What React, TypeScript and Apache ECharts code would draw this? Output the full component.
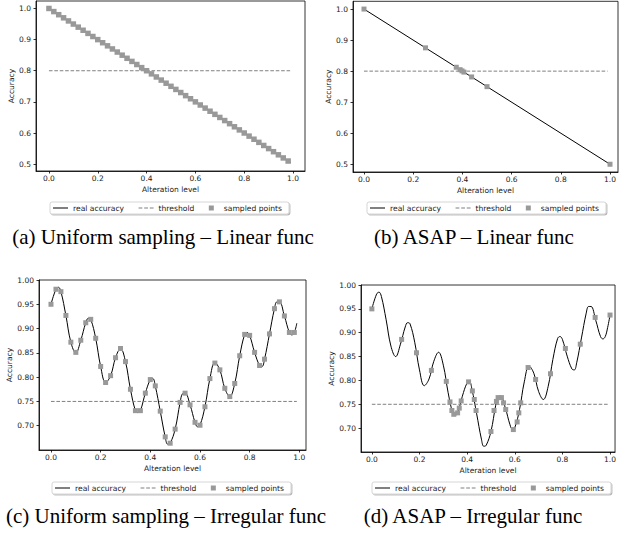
import React, { useEffect, useRef } from "react";
import * as echarts from "echarts";

// ---------- data ----------
const X_TICKS = [0, 0.2, 0.4, 0.6, 0.8, 1.0];
const Y_TICKS_LINEAR = [0.5, 0.6, 0.7, 0.8, 0.9, 1.0];
const Y_TICKS_IRREGULAR = [0.7, 0.75, 0.8, 0.85, 0.9, 0.95, 1.0];

const THRESHOLD_X = [0, 0.99];
const THRESHOLD_LINEAR = 0.8;
const THRESHOLD_IRREGULAR = 0.75;

// (a) uniform sampling of the linear function
const UNIFORM_X = [
  0.0, 0.02, 0.04, 0.06, 0.08, 0.1, 0.12, 0.14, 0.16, 0.18,
  0.2, 0.22, 0.24, 0.26, 0.28, 0.3, 0.32, 0.34, 0.36, 0.38,
  0.4, 0.42, 0.44, 0.46, 0.48, 0.5, 0.52, 0.54, 0.56, 0.58,
  0.6, 0.62, 0.64, 0.66, 0.68, 0.7, 0.72, 0.74, 0.76, 0.78,
  0.8, 0.82, 0.84, 0.86, 0.88, 0.9, 0.92, 0.94, 0.96, 0.98,
];
const LINEAR_UNIFORM_Y = [
  1.0, 0.99, 0.98, 0.97, 0.96, 0.95, 0.94, 0.93, 0.92, 0.91,
  0.9, 0.89, 0.88, 0.87, 0.86, 0.85, 0.84, 0.83, 0.82, 0.81,
  0.8, 0.79, 0.78, 0.77, 0.76, 0.75, 0.74, 0.73, 0.72, 0.71,
  0.7, 0.69, 0.68, 0.67, 0.66, 0.65, 0.64, 0.63, 0.62, 0.61,
  0.6, 0.59, 0.58, 0.57, 0.56, 0.55, 0.54, 0.53, 0.52, 0.51,
];
const LINEAR_CURVE_A_X = [0, 0.99];
const LINEAR_CURVE_A_Y = [1.0, 0.505];

// (b) ASAP sampling of the linear function
const LINEAR_CURVE_B_X = [0, 1.0];
const LINEAR_CURVE_B_Y = [1.0, 0.5];
const ASAP_LINEAR_X = [0, 0.25, 0.375, 0.390625, 0.3984375, 0.40625, 0.4375, 0.5, 1.0];
const ASAP_LINEAR_Y = [1.0, 0.875, 0.8125, 0.8047, 0.8008, 0.7969, 0.7813, 0.75, 0.5];

// (c) uniform sampling of the irregular function
const IRREG_UNIFORM_Y = [
  0.95, 0.981, 0.976, 0.927, 0.872, 0.851, 0.876, 0.912, 0.919, 0.88,
  0.822, 0.789, 0.803, 0.84, 0.859, 0.832, 0.775, 0.731, 0.731, 0.767,
  0.795, 0.782, 0.73, 0.677, 0.664, 0.693, 0.748, 0.767, 0.743, 0.707,
  0.701, 0.739, 0.797, 0.829, 0.815, 0.777, 0.76, 0.787, 0.844, 0.888,
  0.886, 0.851, 0.824, 0.837, 0.889, 0.941, 0.955, 0.926, 0.892, 0.892,
];

// real (irregular) accuracy curve
const IRREG_CURVE_X = [
  0.0, 0.02, 0.03, 0.04, 0.06, 0.08, 0.1, 0.12, 0.14, 0.15, 0.16, 0.18,
  0.2, 0.22, 0.24, 0.26, 0.28, 0.3, 0.32, 0.34, 0.35, 0.36, 0.38,
  0.4, 0.41, 0.42, 0.44, 0.46, 0.47, 0.48, 0.5, 0.52, 0.53, 0.54, 0.56, 0.58, 0.59,
  0.6, 0.62, 0.64, 0.66, 0.68, 0.7, 0.72, 0.74, 0.76, 0.78, 0.79,
  0.8, 0.82, 0.84, 0.85, 0.86, 0.88, 0.9, 0.91, 0.92, 0.94, 0.96, 0.97, 0.98, 0.99, 1.0,
];
const IRREG_CURVE_Y = [
  0.95, 0.981, 0.985, 0.976, 0.927, 0.872, 0.85, 0.876, 0.912, 0.921, 0.919, 0.88,
  0.822, 0.789, 0.803, 0.84, 0.859, 0.832, 0.775, 0.731, 0.727, 0.731, 0.767,
  0.795, 0.797, 0.782, 0.73, 0.677, 0.662, 0.664, 0.693, 0.748, 0.766, 0.767, 0.743, 0.707, 0.698,
  0.701, 0.739, 0.797, 0.83, 0.815, 0.777, 0.76, 0.787, 0.844, 0.888, 0.892,
  0.886, 0.851, 0.824, 0.822, 0.837, 0.889, 0.941, 0.955, 0.955, 0.926, 0.892, 0.887, 0.892, 0.911, 0.937,
];

// (d) ASAP sampling of the irregular function
const ASAP_IRREG_X = [
  0.0, 0.125, 0.1875, 0.25, 0.3125, 0.328, 0.336, 0.344, 0.36, 0.367, 0.375,
  0.406, 0.422, 0.43, 0.4375, 0.5, 0.513, 0.523, 0.53, 0.544, 0.553, 0.562,
  0.594, 0.61, 0.617, 0.625, 0.656, 0.6875, 0.75, 0.8125, 0.875, 0.9375, 1.0,
];
const ASAP_IRREG_Y = [
  0.95, 0.886, 0.858, 0.821, 0.798, 0.755, 0.737, 0.729, 0.732, 0.742, 0.757,
  0.797, 0.778, 0.76, 0.737, 0.693, 0.737, 0.756, 0.764, 0.764, 0.753, 0.739,
  0.697, 0.713, 0.732, 0.753, 0.827, 0.802, 0.814, 0.867, 0.876, 0.932, 0.937,
];

const CAPTIONS = [
  "(a) Uniform sampling – Linear func",
  "(b) ASAP – Linear func",
  "(c) Uniform sampling – Irregular func",
  "(d) ASAP – Irregular func",
];

// ---------- helpers ----------
const zip = (xs: number[], ys: number[]) => xs.map((x, i) => [x, ys[i]]);

const FONT = "DejaVu Sans";
const FS = 7.5;
const INK = "#1a1a1a";

type Panel = {
  grid: { left: number; top: number; width: number; height: number };
  xr: [number, number];
  yr: [number, number];
  yTicks: number[];
  yDec: number;
  yNameGap: number;
  curve: number[][];
  threshold: number;
  samples: number[][];
  symbolSize: number;
  legend: { left: number; top: number };
  caption: { x: number; y: number };
};

const panels: Panel[] = [
  {
    grid: { left: 36, top: 1, width: 269, height: 170 },
    xr: [-0.053, 1.049],
    yr: [0.478, 1.024],
    yTicks: Y_TICKS_LINEAR,
    yDec: 1,
    yNameGap: 20,
    curve: zip(LINEAR_CURVE_A_X, LINEAR_CURVE_A_Y),
    threshold: THRESHOLD_LINEAR,
    samples: zip(UNIFORM_X, LINEAR_UNIFORM_Y),
    symbolSize: 5.5,
    legend: { left: 50, top: 202 },
    caption: { x: 163, y: 237 },
  },
  {
    grid: { left: 353, top: 1.3, width: 265, height: 170.7 },
    xr: [-0.0447, 1.0325],
    yr: [0.475, 1.025],
    yTicks: Y_TICKS_LINEAR,
    yDec: 1,
    yNameGap: 20,
    curve: zip(LINEAR_CURVE_B_X, LINEAR_CURVE_B_Y),
    threshold: THRESHOLD_LINEAR,
    samples: zip(ASAP_LINEAR_X, ASAP_LINEAR_Y),
    symbolSize: 5,
    legend: { left: 367, top: 202 },
    caption: { x: 474, y: 237 },
  },
  {
    grid: { left: 39, top: 280, width: 267, height: 170 },
    xr: [-0.0483, 1.027],
    yr: [0.65, 1.0],
    yTicks: Y_TICKS_IRREGULAR,
    yDec: 2,
    yNameGap: 24,
    curve: zip(IRREG_CURVE_X, IRREG_CURVE_Y).filter((p) => p[0] <= 0.99),
    threshold: THRESHOLD_IRREGULAR,
    samples: zip(UNIFORM_X, IRREG_UNIFORM_Y),
    symbolSize: 5,
    legend: { left: 52, top: 482 },
    caption: { x: 166, y: 516 },
  },
  {
    grid: { left: 361, top: 285, width: 257, height: 167 },
    xr: [-0.0456, 1.021],
    yr: [0.65, 1.0],
    yTicks: Y_TICKS_IRREGULAR,
    yDec: 2,
    yNameGap: 25,
    curve: zip(IRREG_CURVE_X, IRREG_CURVE_Y),
    threshold: THRESHOLD_IRREGULAR,
    samples: zip(ASAP_IRREG_X, ASAP_IRREG_Y),
    symbolSize: 5,
    legend: { left: 372, top: 482 },
    caption: { x: 473, y: 516 },
  },
];

function buildOption() {
  const grid: any[] = [];
  const xAxis: any[] = [];
  const yAxis: any[] = [];
  const series: any[] = [];
  const legend: any[] = [];
  const graphic: any[] = [];

  panels.forEach((p, i) => {
    grid.push({
      ...p.grid,
      show: true,
      borderColor: "#000",
      borderWidth: 0.8,
      backgroundColor: "#fff",
    });
    xAxis.push({
      type: "value",
      gridIndex: i,
      min: p.xr[0],
      max: p.xr[1],
      name: "Alteration level",
      nameLocation: "middle",
      nameGap: 14,
      nameTextStyle: { fontFamily: FONT, fontSize: FS, color: INK },
      axisLine: { show: true, onZero: false, lineStyle: { color: "#000", width: 0.8 } },
      axisTick: {
        show: true,
        length: 2.5,
        customValues: X_TICKS,
        lineStyle: { color: "#000", width: 0.8 },
      },
      axisLabel: {
        customValues: X_TICKS,
        formatter: (v: number) => v.toFixed(1),
        fontFamily: FONT,
        fontSize: FS,
        color: INK,
        margin: 3,
      },
      splitLine: { show: false },
    });
    yAxis.push({
      type: "value",
      gridIndex: i,
      min: p.yr[0],
      max: p.yr[1],
      name: "Accuracy",
      nameLocation: "middle",
      nameGap: p.yNameGap,
      nameTextStyle: { fontFamily: FONT, fontSize: FS, color: INK },
      axisLine: { show: true, onZero: false, lineStyle: { color: "#000", width: 0.8 } },
      axisTick: {
        show: true,
        length: 2.5,
        customValues: p.yTicks,
        lineStyle: { color: "#000", width: 0.8 },
      },
      axisLabel: {
        customValues: p.yTicks,
        formatter: (v: number) => v.toFixed(p.yDec),
        fontFamily: FONT,
        fontSize: FS,
        color: INK,
        margin: 5,
      },
      splitLine: { show: false },
    });
    series.push({
      name: "real accuracy",
      type: "line",
      xAxisIndex: i,
      yAxisIndex: i,
      data: p.curve,
      symbol: "none",
      smooth: i >= 2 ? 0.4 : false,
      color: "#000",
      lineStyle: { color: "#000", width: 1 },
      z: 2,
    });
    series.push({
      name: "threshold",
      type: "line",
      xAxisIndex: i,
      yAxisIndex: i,
      data: THRESHOLD_X.map((x) => [x, p.threshold]),
      symbol: "none",
      color: "#808080",
      lineStyle: { color: "#808080", width: 1, type: [3.6, 1.8] },
      z: 3,
    });
    series.push({
      name: "sampled points",
      type: "scatter",
      xAxisIndex: i,
      yAxisIndex: i,
      data: p.samples,
      symbol: "rect",
      symbolSize: p.symbolSize,
      color: "#999999",
      itemStyle: { color: "#999999", opacity: 1 },
      z: 4,
    });
    legend.push({
      left: p.legend.left,
      top: p.legend.top,
      orient: "horizontal",
      selectedMode: false,
      data: [
        { name: "real accuracy", icon: "path://M0,0H15V1H0Z" },
        { name: "threshold", icon: "path://M0,0H3.8V1H0ZM5.6,0H9.4V1H5.6ZM11.2,0H15V1H11.2Z" },
        { name: "sampled points", icon: "path://M0,0H1V1H0Z" },
      ],
      itemWidth: 15,
      itemHeight: 5,
      itemGap: 14.5,
      itemStyle: { borderWidth: 0 },
      textStyle: { fontFamily: FONT, fontSize: 7.6, color: INK },
      backgroundColor: "#fff",
      borderColor: "#cccccc",
      borderWidth: 0.8,
      borderRadius: 2,
      padding: [2, 7, 2, 3],
      shadowColor: "rgba(0,0,0,0.3)",
      shadowOffsetX: 1,
      shadowOffsetY: 1,
      shadowBlur: 0,
    });
    graphic.push({
      type: "text",
      x: p.caption.x,
      y: p.caption.y,
      style: {
        text: CAPTIONS[i],
        fontFamily: "Liberation Serif",
        fontSize: 21,
        fill: "#000",
        align: "center",
        verticalAlign: "middle",
      },
    });
  });

  return {
    animation: false,
    backgroundColor: "#fff",
    grid,
    xAxis,
    yAxis,
    series,
    legend,
    graphic,
  };
}

export default function App() {
  const ref = useRef<HTMLDivElement>(null);
  useEffect(() => {
    if (!ref.current) return;
    const chart = echarts.init(ref.current, undefined, { renderer: "svg" });
    chart.setOption(buildOption() as any);
    return () => chart.dispose();
  }, []);
  return (
    <div
      ref={ref}
      style={{ position: "absolute", left: 0, top: 0, width: 619, height: 537, background: "#fff" }}
    />
  );
}
